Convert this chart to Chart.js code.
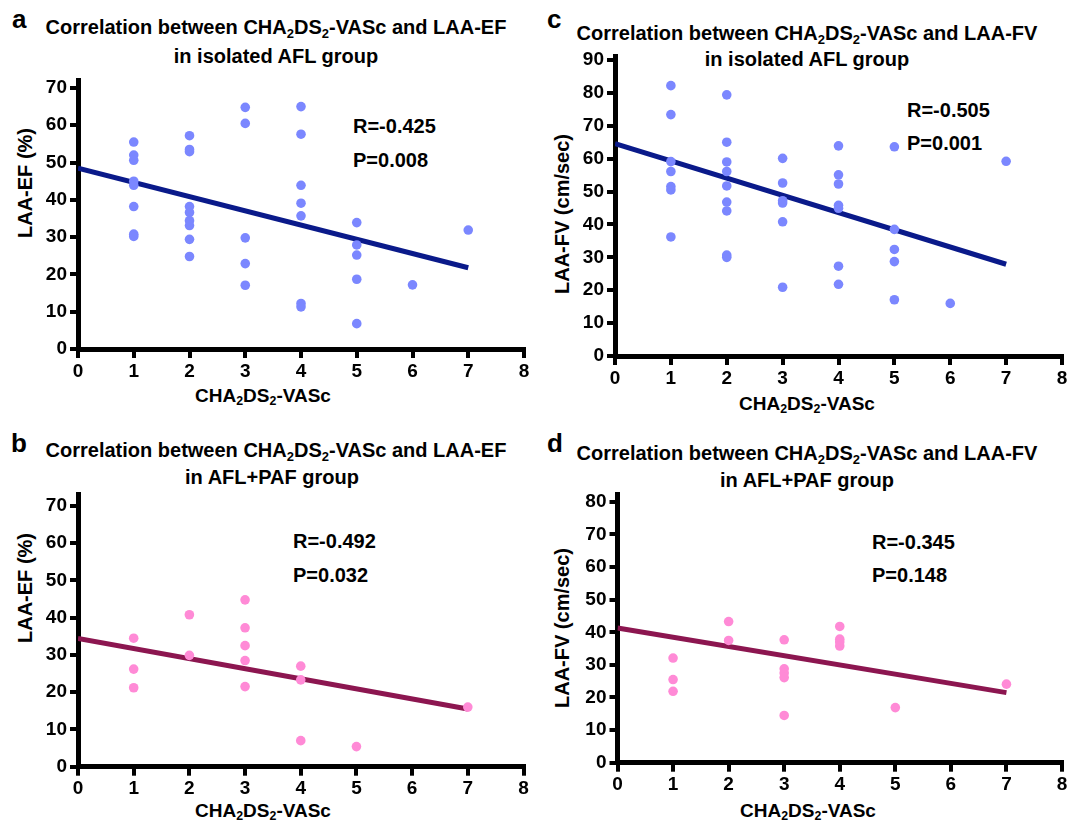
<!DOCTYPE html>
<html>
<head>
<meta charset="utf-8">
<script src="https://cdn.jsdelivr.net/npm/chart.js@4.4.0/dist/chart.umd.min.js"></script>
<style>
  body { margin: 0; background: #fff; width: 1086px; height: 825px; position: relative; overflow: hidden;
         font-family: "Liberation Sans", Arial, sans-serif; font-weight: bold; color: #000; }
  .t { position: absolute; white-space: nowrap; font-size: 20px; line-height: 20px; }
  .ttl { text-align: center; width: 560px; }
  .xt { text-align: center; width: 300px; font-size: 19px; line-height: 19px; }
  .lt { position: absolute; font-size: 26px; line-height: 26px; }
  .yt { position: absolute; font-size: 20px; line-height: 20px; white-space: nowrap;
        transform: translate(-50%, -50%) rotate(-90deg); }
  sub { font-size: 0.65em; vertical-align: -0.28em; line-height: 0; }
  canvas { position: absolute; }
</style>
</head>
<body>

<div class="lt" style="left:12px;top:6px">a</div>
<div class="t ttl" style="left:-4px;top:17px">Correlation between CHA<sub>2</sub>DS<sub>2</sub>-VASc and LAA-EF</div>
<div class="t ttl" style="left:-4px;top:46px">in isolated AFL group</div>
<div class="yt" style="left:25px;top:183px">LAA-EF (%)</div>
<div class="t xt" style="left:113px;top:386px">CHA<sub>2</sub>DS<sub>2</sub>-VASc</div>
<div class="t" style="left:353px;top:116px">R=-0.425</div>
<div class="t" style="left:353px;top:150px">P=0.008</div>

<div class="lt" style="left:547px;top:6px">c</div>
<div class="t ttl" style="left:527px;top:23px">Correlation between CHA<sub>2</sub>DS<sub>2</sub>-VASc and LAA-FV</div>
<div class="t ttl" style="left:527px;top:49px">in isolated AFL group</div>
<div class="yt" style="left:562px;top:214px">LAA-FV (cm/sec)</div>
<div class="t xt" style="left:657px;top:394px">CHA<sub>2</sub>DS<sub>2</sub>-VASc</div>
<div class="t" style="left:907px;top:100px">R=-0.505</div>
<div class="t" style="left:907px;top:133px">P=0.001</div>

<div class="lt" style="left:11px;top:430px">b</div>
<div class="t ttl" style="left:-4px;top:440px">Correlation between CHA<sub>2</sub>DS<sub>2</sub>-VASc and LAA-EF</div>
<div class="t ttl" style="left:-8px;top:467px">in AFL+PAF group</div>
<div class="yt" style="left:25px;top:588px">LAA-EF (%)</div>
<div class="t xt" style="left:113px;top:801px">CHA<sub>2</sub>DS<sub>2</sub>-VASc</div>
<div class="t" style="left:293px;top:531px">R=-0.492</div>
<div class="t" style="left:293px;top:565px">P=0.032</div>

<div class="lt" style="left:547px;top:430px">d</div>
<div class="t ttl" style="left:527px;top:443px">Correlation between CHA<sub>2</sub>DS<sub>2</sub>-VASc and LAA-FV</div>
<div class="t ttl" style="left:527px;top:470px">in AFL+PAF group</div>
<div class="yt" style="left:562px;top:628px">LAA-FV (cm/sec)</div>
<div class="t xt" style="left:658px;top:801px">CHA<sub>2</sub>DS<sub>2</sub>-VASc</div>
<div class="t" style="left:872px;top:532px">R=-0.345</div>
<div class="t" style="left:872px;top:565px">P=0.148</div>

<canvas id="chartA"></canvas>
<canvas id="chartB"></canvas>
<canvas id="chartC"></canvas>
<canvas id="chartD"></canvas>

<script>
const scoreA = [1,1,1,1,1,1,1,1, 2,2,2,2,2,2,2,2,2, 3,3,3,3,3, 4,4,4,4,4,4,4, 5,5,5,5,5, 6, 7];
const efA    = [55.5,52.0,50.6,45.0,43.9,38.2,30.8,30.2,
                57.2,53.5,52.9,38.2,36.6,34.4,33.1,29.4,24.8,
                64.8,60.5,29.8,22.9,17.1,
                65.0,57.6,43.9,39.1,35.7,12.2,11.3,
                33.9,27.9,25.2,18.7,6.8,
                17.2, 31.9];

const scoreC = [1,1,1,1,1,1,1, 2,2,2,2,2,2,2,2,2, 3,3,3,3,3,3, 4,4,4,4,4,4,4, 5,5,5,5,5, 6, 7];
const fvC    = [82.2,73.4,59.1,56.1,51.5,50.5,36.2,
                79.4,65.0,59.0,56.1,51.7,46.8,44.1,30.7,30.0,
                60.1,52.6,47.2,46.5,40.8,20.9,
                63.9,55.1,52.3,45.8,44.9,27.3,21.8,
                63.6,38.5,32.4,28.7,17.1,
                16.0, 59.2];

const scoreB = [1,1,1, 2,2, 3,3,3,3,3, 4,4,4, 5, 7];
const efB    = [34.5,26.2,21.2, 40.8,29.9, 44.8,37.3,32.5,28.5,21.5, 27.0,23.3,7.0, 5.4, 16.0];

const scoreD = [1,1,1, 2,2, 3,3,3,3,3, 4,4,4,4, 5, 7];
const fvD    = [32.1,25.5,21.9, 43.3,37.5, 37.7,28.8,27.5,26.1,14.5, 41.8,37.9,37.0,35.8, 16.9, 24.1];

// regression line ends at score 0 and score 7
const fitX = [0, 7];
const fitA = [48.5, 21.8];
const fitC = [64.6, 27.9];
const fitB = [34.4, 15.5];
const fitD = [41.3, 21.5];

const blueDot = '#7b87ff', navy = '#0a1a8a';
const pinkDot = '#ff8ad6', maroon = '#8c1650';
const font = { family: '"Liberation Sans", Arial, sans-serif', size: 19, weight: 'bold' };

function panel(id, box, area, yMax, xs, ys, fit, dot, lineColor) {
  const cv = document.getElementById(id);
  cv.width = box.w; cv.height = box.h;
  cv.style.left = box.x + 'px'; cv.style.top = box.y + 'px';

  const axis = {
    grid: { display: true, drawOnChartArea: false, drawTicks: true, color: '#000', lineWidth: 4, tickWidth: 4 },
    border: { display: true, color: '#000', width: 5 },
  };

  new Chart(cv, {
    type: 'scatter',
    data: {
      datasets: [
        { data: xs.map((x, i) => ({ x, y: ys[i] })), backgroundColor: dot, borderWidth: 0,
          pointRadius: 4.8, order: 0 },
        { data: fitX.map((x, i) => ({ x, y: fit[i] })), showLine: true, borderColor: lineColor,
          borderWidth: 5, pointRadius: 0, order: 1 },
      ],
    },
    options: {
      responsive: false,
      animation: false,
      layout: { padding: { left: 0, bottom: 0, top: area.t - box.y, right: box.x + box.w - area.r } },
      plugins: { legend: { display: false }, tooltip: { enabled: false } },
      scales: {
        x: {
          ...axis, grid: { ...axis.grid, tickLength: 9 },
          min: 0, max: 8,
          ticks: { stepSize: 1, color: '#000', font, padding: 2, maxRotation: 0 },
          afterFit: (s) => { s.height = box.y + box.h - area.b; },
        },
        y: {
          ...axis, grid: { ...axis.grid, tickLength: 8 },
          min: 0, max: yMax,
          ticks: { stepSize: 10, includeBounds: false, color: '#000', font, padding: 3 },
          afterFit: (s) => { s.width = area.l - box.x; },
        },
      },
    },
  });
}

panel('chartA', { x: 0, y: 60, w: 545, h: 340 }, { l: 78, r: 524, t: 80.5, b: 349 }, 72,
      scoreA, efA, fitA, blueDot, navy);
panel('chartC', { x: 545, y: 40, w: 541, h: 380 }, { l: 615, r: 1062, t: 56.7, b: 356 }, 91,
      scoreC, fvC, fitC, blueDot, navy);
panel('chartB', { x: 0, y: 480, w: 545, h: 345 }, { l: 78, r: 523.5, t: 494.8, b: 766.7 }, 73,
      scoreB, efB, fitB, pinkDot, maroon);
panel('chartD', { x: 545, y: 480, w: 541, h: 345 }, { l: 617.5, r: 1062, t: 493, b: 762.7 }, 82.3,
      scoreD, fvD, fitD, pinkDot, maroon);
</script>
</body>
</html>
